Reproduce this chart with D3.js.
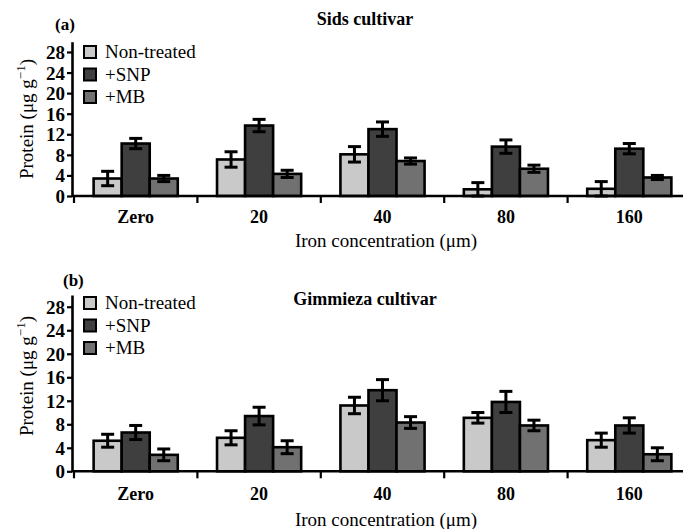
<!DOCTYPE html>
<html>
<head>
<meta charset="utf-8">
<script src="https://cdn.jsdelivr.net/npm/d3@7"></script>
<style>
  body { margin: 0; background: #fff; }
  #chart, #chart text { font-family: "Liberation Serif", "Times New Roman", Times, serif !important; fill: #000; }
</style>
</head>
<body>
<svg id="chart" width="683" height="529"></svg>
<script>
var categories = ["Zero", "20", "40", "80", "160"];
var series = ["Non-treated", "+SNP", "+MB"];
var colors = ["#c9c9c9", "#3f3f3f", "#717171"];
var yTicks = [0, 4, 8, 12, 16, 20, 24, 28];

// panel (a) Sids cultivar
var sidsNT = [3.4, 7.1, 8.1, 1.3, 1.4];
var sidsSNP = [10.2, 13.7, 13.0, 9.6, 9.2];
var sidsMB = [3.4, 4.3, 6.8, 5.3, 3.6];
var sidsNTerr = [1.4, 1.5, 1.5, 1.3, 1.4];
var sidsSNPerr = [1.0, 1.2, 1.4, 1.3, 1.0];
var sidsMBerr = [0.6, 0.7, 0.6, 0.7, 0.4];

// panel (b) Gimmieza cultivar
var gimNT = [5.2, 5.7, 11.2, 9.1, 5.3];
var gimSNP = [6.6, 9.4, 13.8, 11.8, 7.8];
var gimMB = [2.8, 4.1, 8.3, 7.8, 2.9];
var gimNTerr = [1.1, 1.2, 1.4, 0.9, 1.2];
var gimSNPerr = [1.2, 1.5, 1.8, 1.8, 1.3];
var gimMBerr = [1.0, 1.1, 1.0, 0.9, 1.1];

var svg = d3.select("#chart");
var SERIF = "'Liberation Serif', 'Times New Roman', serif";

function drawPanel(opt) {
  var g = svg.append("g");
  var x0 = d3.scaleBand().domain(categories).range([74, 691]).paddingInner(0);
  var x1 = d3.scaleBand().domain(series).range([0, x0.bandwidth()]).paddingInner(0).paddingOuter(0.7);
  var y = d3.scaleLinear().domain([0, 30]).range([opt.y0, opt.yTop]);

  var rows = [];
  categories.forEach(function (c, i) {
    series.forEach(function (s, j) {
      rows.push({ cat: c, ser: s, j: j, v: opt.vals[j][i], e: opt.errs[j][i] });
    });
  });

  g.selectAll("rect.bar").data(rows).join("rect")
    .attr("class", "bar")
    .attr("x", function (d) { return x0(d.cat) + x1(d.ser); })
    .attr("y", function (d) { return y(d.v); })
    .attr("width", x1.bandwidth())
    .attr("height", function (d) { return y(0) - y(d.v); })
    .attr("fill", function (d) { return colors[d.j]; })
    .attr("stroke", "#000")
    .attr("stroke-width", 2.6);

  var eb = g.selectAll("g.err").data(rows).join("g").attr("class", "err")
    .attr("stroke", "#000").attr("stroke-width", 3);
  eb.append("line")
    .attr("x1", function (d) { return x0(d.cat) + x1(d.ser) + x1.bandwidth() / 2; })
    .attr("x2", function (d) { return x0(d.cat) + x1(d.ser) + x1.bandwidth() / 2; })
    .attr("y1", function (d) { return y(d.v - d.e); })
    .attr("y2", function (d) { return y(d.v + d.e); });
  [-1, 1].forEach(function (sgn) {
    eb.append("line")
      .attr("x1", function (d) { return x0(d.cat) + x1(d.ser) + x1.bandwidth() / 2 - 6.5; })
      .attr("x2", function (d) { return x0(d.cat) + x1(d.ser) + x1.bandwidth() / 2 + 6.5; })
      .attr("y1", function (d) { return y(d.v + sgn * d.e); })
      .attr("y2", function (d) { return y(d.v + sgn * d.e); });
  });

  // y axis
  var yAxis = g.append("g").attr("transform", "translate(72,0)")
    .call(d3.axisLeft(y).tickValues(yTicks).tickSize(5).tickSizeOuter(0).tickPadding(2));
  yAxis.attr("font-family", SERIF);
  yAxis.select(".domain").attr("stroke-width", 2.6);
  yAxis.selectAll(".tick line").attr("stroke-width", 2.2);
  yAxis.selectAll(".tick text").attr("font-size", 19).attr("font-weight", "bold").attr("dy", "0.34em");

  // x axis with ticks at band boundaries
  var xAxis = g.append("g").attr("transform", "translate(0," + opt.y0 + ")");
  xAxis.append("line").attr("x1", 72).attr("x2", 683).attr("stroke", "#000").attr("stroke-width", 2.6);
  xAxis.selectAll("line.sep").data(categories).join("line").attr("class", "sep")
    .attr("x1", function (d) { return x0(d); }).attr("x2", function (d) { return x0(d); })
    .attr("y1", 0).attr("y2", 7).attr("stroke", "#000").attr("stroke-width", 2.2);
  xAxis.selectAll("text").data(categories).join("text")
    .attr("x", function (d) { return x0(d) + x0.bandwidth() / 2; })
    .attr("y", opt.tickY).attr("text-anchor", "middle").attr("font-size", 18).attr("font-weight", "bold")
    .text(function (d) { return d; });

  g.append("text").attr("x", 386).attr("y", opt.y0 + opt.xLabY).attr("text-anchor", "middle")
    .attr("font-size", 19).text("Iron concentration (\u03bcm)");

  // y label
  var yl = g.append("text")
    .attr("transform", "translate(33," + opt.yLabC + ") rotate(-90)")
    .attr("text-anchor", "middle").attr("font-size", 19);
  yl.append("tspan").text("Protein (\u03bcg g");
  yl.append("tspan").attr("dy", -8).attr("font-size", 13).text("\u22121");
  yl.append("tspan").attr("dy", 8).text(")");

  // panel letter and title
  g.append("text").attr("x", opt.letterX).attr("y", opt.letterY).attr("font-size", 17).attr("font-weight", "bold").text(opt.letter);
  g.append("text").attr("x", 365).attr("y", opt.titleY).attr("text-anchor", "middle")
    .attr("font-size", 18).attr("font-weight", "bold").text(opt.title);

  // legend
  var lg = g.selectAll("g.leg").data(series).join("g").attr("class", "leg")
    .attr("transform", function (d, i) { return "translate(84," + (opt.legY + i * 22.5) + ")"; });
  lg.append("rect").attr("x", 0).attr("y", -6).attr("width", 12).attr("height", 12)
    .attr("fill", function (d, i) { return colors[i]; }).attr("stroke", "#000").attr("stroke-width", 2);
  lg.append("text").attr("x", 21).attr("y", 6).attr("font-size", 19).text(function (d) { return d; });
}

drawPanel({
  y0: 196, yTop: 41.7, letter: "(a)", letterX: 55, letterY: 30, title: "Sids cultivar", titleY: 25, legY: 52,
  tickY: 27, xLabY: 51, yLabC: 119,
  vals: [sidsNT, sidsSNP, sidsMB], errs: [sidsNTerr, sidsSNPerr, sidsMBerr]
});
drawPanel({
  y0: 471.3, yTop: 295, letter: "(b)", letterX: 63, letterY: 286, title: "Gimmieza cultivar", titleY: 305, legY: 303,
  tickY: 29, xLabY: 55, yLabC: 376,
  vals: [gimNT, gimSNP, gimMB], errs: [gimNTerr, gimSNPerr, gimMBerr]
});
</script>
</body>
</html>
